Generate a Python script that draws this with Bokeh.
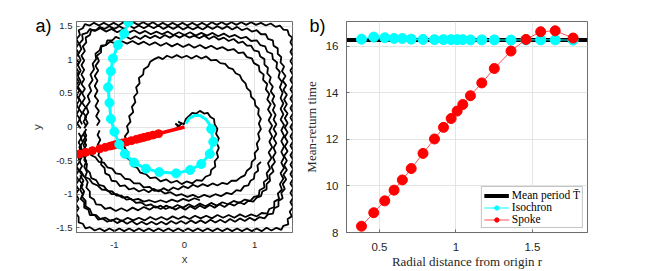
import math
from bokeh.plotting import figure
from bokeh.layouts import row
from bokeh.models import FixedTicker, Title
from bokeh.embed import file_html
from bokeh.resources import INLINE

# ---------------- data: panel b ----------------
r_vals = [0.383, 0.463, 0.535, 0.596, 0.650, 0.708, 0.785, 0.860, 0.919, 0.969,
          1.008, 1.045, 1.095, 1.169, 1.251, 1.360, 1.458, 1.554, 1.649, 1.766]
iso_T = [16.31, 16.40, 16.37, 16.34, 16.34, 16.31, 16.30, 16.29, 16.29, 16.29,
         16.29, 16.29, 16.28, 16.28, 16.28, 16.27, 16.28, 16.28, 16.28, 16.27]
spoke_T = [8.27, 8.85, 9.36, 9.82, 10.26, 10.75, 11.40, 12.02, 12.52, 12.90,
           13.22, 13.50, 13.88, 14.43, 15.05, 15.80, 16.30, 16.63, 16.67, 16.36]
T_mean = 16.27
xb_ticks = [0.5, 1.0, 1.5]
yb_ticks = [8, 10, 12, 14, 16]
xb_range = (0.285, 1.86)
yb_range = (8.0, 17.07)

# ---------------- data: panel a ----------------
xa_ticks = [-1, 0, 1]
ya_ticks = [-1.5, -1, -0.5, 0, 0.5, 1, 1.5]
xa_range = (-1.54, 1.54)
ya_range = (-1.57, 1.57)

spoke_angle_deg = 195.0
spoke_origin = (0.0, 0.0)

iso_head = [(0.02, 0.05), (0.07, 0.13), (0.14, 0.17), (0.22, 0.17), (0.30, 0.12), (0.35, 0.05)]
iso_marks = [(0.38, -0.03), (0.41, -0.22), (0.36, -0.40), (0.24, -0.55), (0.08, -0.64),
             (-0.12, -0.69), (-0.36, -0.67), (-0.55, -0.62), (-0.72, -0.53), (-0.85, -0.40),
             (-0.93, -0.26), (-1.00, -0.07), (-1.05, 0.12), (-1.07, 0.36), (-1.09, 0.59),
             (-1.05, 0.83), (-1.02, 1.02), (-0.95, 1.22), (-0.86, 1.39), (-0.80, 1.56)]

traj_a = [(-0.08, 0.02), (-0.13, 0.05), (-0.05, -0.03), (-0.12, -0.02), (-0.04, 0.05), (-0.09, 0.08), (-0.01, 0.04),
          (0.02, 0.12), (0.07, 0.17), (0.11, 0.21), (0.17, 0.20), (0.22, 0.24), (0.28, 0.20), (0.33, 0.21), (0.37, 0.15),
          (0.42, 0.12), (0.43, 0.04), (0.47, -0.03), (0.45, -0.10), (0.49, -0.17), (0.46, -0.24), (0.49, -0.31),
          (0.46, -0.38), (0.48, -0.45), (0.43, -0.51), (0.44, -0.59), (0.38, -0.64), (0.37, -0.71), (0.30, -0.74),
          (0.25, -0.80), (0.17, -0.79), (0.11, -0.84), (0.03, -0.81), (-0.04, -0.85), (-0.11, -0.80), (-0.19, -0.83),
          (-0.26, -0.78), (-0.34, -0.81), (-0.41, -0.75), (-0.49, -0.76), (-0.55, -0.70), (-0.63, -0.68), (-0.67, -0.61),
          (-0.75, -0.58), (-0.77, -0.50), (-0.83, -0.45), (-0.82, -0.37), (-0.86, -0.29), (-0.82, -0.22), (-0.85, -0.14),
          (-0.80, -0.07), (-0.82, 0.01), (-0.77, 0.08), (-0.79, 0.16), (-0.73, 0.22), (-0.75, 0.30), (-0.70, 0.37),
          (-0.72, 0.45), (-0.67, 0.51), (-0.69, 0.59), (-0.64, 0.65), (-0.65, 0.73), (-0.59, 0.78), (-0.58, 0.86),
          (-0.52, 0.90), (-0.49, 0.97), (-0.43, 1.01), (-0.37, 1.04), (-0.31, 1.01), (-0.25, 1.06), (-0.18, 1.03),
          (-0.11, 1.07), (-0.04, 1.03), (0.03, 1.06), (0.10, 1.02), (0.17, 1.06), (0.24, 1.02), (0.31, 1.05),
          (0.38, 0.99), (0.45, 1.00), (0.51, 0.95), (0.58, 0.94), (0.63, 0.88), (0.69, 0.86), (0.73, 0.80), (0.79, 0.77),
          (0.82, 0.70), (0.87, 0.65), (0.89, 0.58), (0.94, 0.53), (0.95, 0.45), (1.00, 0.40), (1.01, 0.32), (1.06, 0.27),
          (1.05, 0.19), (1.09, 0.12), (1.06, 0.05), (1.09, -0.03), (1.05, -0.10), (1.07, -0.18), (1.03, -0.25),
          (1.05, -0.33), (1.00, -0.39), (1.01, -0.47), (0.96, -0.52), (0.95, -0.60), (0.89, -0.65), (0.86, -0.72),
          (0.80, -0.75), (0.74, -0.80), (0.67, -0.80), (0.61, -0.85), (0.54, -0.83), (0.47, -0.87), (0.40, -0.84),
          (0.33, -0.88), (0.26, -0.85), (0.19, -0.89), (0.12, -0.86), (0.05, -0.91), (-0.02, -0.88), (-0.09, -0.93),
          (-0.16, -0.90), (-0.23, -0.95), (-0.30, -0.91), (-0.37, -0.96), (-0.44, -0.92), (-0.51, -0.97), (-0.58, -0.93),
          (-0.65, -0.96), (-0.72, -0.91), (-0.79, -0.93), (-0.85, -0.87), (-0.92, -0.88), (-0.97, -0.81), (-1.04, -0.80),
          (-1.07, -0.72), (-1.13, -0.69), (-1.14, -0.61), (-1.19, -0.56), (-1.18, -0.48), (-1.23, -0.42), (-1.20, -0.34),
          (-1.24, -0.27), (-1.20, -0.19), (-1.24, -0.12), (-1.21, -0.05)]

traj_b = [(-1.25, 0.02), (-1.21, 0.09), (-1.26, 0.16), (-1.22, 0.24), (-1.27, 0.31), (-1.23, 0.39), (-1.28, 0.46),
          (-1.24, 0.54), (-1.28, 0.61), (-1.24, 0.69), (-1.28, 0.76), (-1.23, 0.84), (-1.27, 0.91), (-1.22, 0.98),
          (-1.25, 1.06), (-1.19, 1.11), (-1.19, 1.19), (-1.12, 1.22), (-1.10, 1.29), (-1.03, 1.29), (-0.98, 1.34),
          (-0.91, 1.31), (-0.84, 1.35), (-0.77, 1.31), (-0.70, 1.35), (-0.63, 1.31), (-0.56, 1.36), (-0.49, 1.32),
          (-0.42, 1.36), (-0.35, 1.32), (-0.28, 1.37), (-0.21, 1.33), (-0.14, 1.37), (-0.07, 1.33), (0.00, 1.37),
          (0.07, 1.33), (0.14, 1.36), (0.21, 1.32), (0.28, 1.36), (0.35, 1.31), (0.42, 1.35), (0.49, 1.30), (0.56, 1.33),
          (0.63, 1.28), (0.70, 1.31), (0.77, 1.25), (0.83, 1.27), (0.89, 1.21), (0.95, 1.21), (0.99, 1.14), (1.06, 1.12),
          (1.08, 1.05), (1.14, 1.01), (1.14, 0.93), (1.19, 0.88), (1.18, 0.80), (1.23, 0.74), (1.21, 0.67), (1.26, 0.60),
          (1.23, 0.53), (1.28, 0.46), (1.25, 0.39), (1.29, 0.32), (1.26, 0.25), (1.30, 0.18), (1.27, 0.11), (1.31, 0.04),
          (1.27, -0.03), (1.31, -0.10), (1.27, -0.17), (1.31, -0.24), (1.27, -0.31), (1.30, -0.38), (1.26, -0.45),
          (1.29, -0.52), (1.24, -0.59), (1.27, -0.66), (1.21, -0.72), (1.22, -0.80), (1.17, -0.85), (1.17, -0.93),
          (1.11, -0.96), (1.09, -1.03), (1.03, -1.05), (0.98, -1.11), (0.91, -1.10), (0.85, -1.15), (0.78, -1.12),
          (0.71, -1.17), (0.64, -1.14), (0.57, -1.19), (0.50, -1.15), (0.43, -1.20), (0.36, -1.16), (0.29, -1.21),
          (0.22, -1.17), (0.15, -1.22), (0.08, -1.18), (0.01, -1.23), (-0.06, -1.19), (-0.13, -1.23), (-0.20, -1.19),
          (-0.27, -1.22), (-0.34, -1.17), (-0.41, -1.20), (-0.48, -1.15), (-0.55, -1.17), (-0.62, -1.12), (-0.69, -1.13),
          (-0.76, -1.07), (-0.83, -1.08), (-0.90, -1.02), (-0.97, -1.02), (-1.03, -0.96), (-1.10, -0.95), (-1.15, -0.88),
          (-1.22, -0.86), (-1.26, -0.79), (-1.33, -0.76), (-1.35, -0.68), (-1.40, -0.63), (-1.39, -0.55), (-1.43, -0.49),
          (-1.40, -0.41), (-1.44, -0.34), (-1.40, -0.27), (-1.44, -0.20), (-1.40, -0.13), (-1.43, -0.06)]

traj_c = [(-1.40, 0.01), (-1.44, 0.08), (-1.40, 0.15), (-1.45, 0.22), (-1.41, 0.29), (-1.46, 0.36), (-1.42, 0.43),
          (-1.46, 0.50), (-1.42, 0.57), (-1.47, 0.64), (-1.43, 0.71), (-1.47, 0.78), (-1.43, 0.85), (-1.47, 0.92),
          (-1.43, 0.99), (-1.47, 1.06), (-1.42, 1.13), (-1.45, 1.20), (-1.40, 1.26), (-1.41, 1.33), (-1.35, 1.37),
          (-1.33, 1.44), (-1.26, 1.44), (-1.21, 1.49), (-1.14, 1.46), (-1.07, 1.50), (-1.00, 1.46), (-0.93, 1.50),
          (-0.86, 1.46), (-0.79, 1.51), (-0.72, 1.47), (-0.65, 1.51), (-0.58, 1.47), (-0.51, 1.51), (-0.44, 1.47),
          (-0.37, 1.51), (-0.30, 1.46), (-0.23, 1.50), (-0.16, 1.46), (-0.09, 1.50), (-0.02, 1.45), (0.05, 1.49),
          (0.12, 1.45), (0.19, 1.49), (0.26, 1.45), (0.33, 1.50), (0.40, 1.46), (0.47, 1.50), (0.54, 1.46), (0.61, 1.50),
          (0.68, 1.45), (0.75, 1.49), (0.82, 1.44), (0.89, 1.47), (0.96, 1.42), (1.03, 1.44), (1.09, 1.38), (1.16, 1.38),
          (1.19, 1.31), (1.26, 1.29), (1.27, 1.21), (1.33, 1.17), (1.33, 1.09), (1.38, 1.04), (1.37, 0.96), (1.42, 0.90),
          (1.39, 0.83), (1.44, 0.76), (1.40, 0.69), (1.45, 0.62), (1.41, 0.55), (1.46, 0.48), (1.42, 0.41), (1.46, 0.34),
          (1.42, 0.27), (1.47, 0.20), (1.43, 0.13), (1.47, 0.06), (1.43, -0.01), (1.47, -0.08), (1.43, -0.15),
          (1.47, -0.22), (1.43, -0.29), (1.47, -0.36), (1.42, -0.43), (1.46, -0.50), (1.42, -0.57), (1.46, -0.64),
          (1.41, -0.71), (1.45, -0.78), (1.40, -0.85), (1.43, -0.92), (1.38, -0.98), (1.40, -1.06), (1.34, -1.10),
          (1.34, -1.18), (1.28, -1.21), (1.26, -1.29), (1.19, -1.30), (1.14, -1.36), (1.07, -1.34), (1.00, -1.39),
          (0.93, -1.35), (0.86, -1.40), (0.79, -1.36), (0.72, -1.41), (0.65, -1.37), (0.58, -1.42), (0.51, -1.38),
          (0.44, -1.42), (0.37, -1.38), (0.30, -1.43), (0.23, -1.39), (0.16, -1.43), (0.09, -1.39), (0.02, -1.44),
          (-0.05, -1.40), (-0.12, -1.44), (-0.19, -1.40), (-0.26, -1.45), (-0.33, -1.41), (-0.40, -1.45), (-0.47, -1.41),
          (-0.54, -1.45), (-0.61, -1.41), (-0.68, -1.45), (-0.75, -1.40), (-0.82, -1.44), (-0.89, -1.39), (-0.96, -1.43),
          (-1.03, -1.38), (-1.10, -1.41), (-1.17, -1.36), (-1.23, -1.38), (-1.28, -1.31), (-1.35, -1.31), (-1.37, -1.23),
          (-1.43, -1.20), (-1.43, -1.12), (-1.48, -1.07), (-1.45, -1.00), (-1.49, -0.93), (-1.45, -0.86), (-1.50, -0.79),
          (-1.46, -0.72), (-1.50, -0.65), (-1.46, -0.58), (-1.50, -0.51), (-1.46, -0.44), (-1.51, -0.37), (-1.47, -0.30),
          (-1.51, -0.23), (-1.47, -0.16), (-1.51, -0.09)]

traj_d = [(-1.48, -0.02), (-1.53, 0.05), (-1.49, 0.12), (-1.54, 0.19), (-1.50, 0.26), (-1.54, 0.33), (-1.50, 0.40),
          (-1.54, 0.47), (-1.50, 0.54), (-1.55, 0.61), (-1.51, 0.68), (-1.55, 0.75), (-1.51, 0.82), (-1.55, 0.89),
          (-1.51, 0.96), (-1.55, 1.03), (-1.51, 1.10), (-1.55, 1.17), (-1.51, 1.24), (-1.54, 1.31), (-1.49, 1.37),
          (-1.51, 1.44), (-1.45, 1.47), (-1.42, 1.53), (-1.35, 1.51), (-1.29, 1.55), (-1.22, 1.51), (-1.15, 1.55),
          (-1.08, 1.51), (-1.01, 1.55), (-0.94, 1.51), (-0.87, 1.56), (-0.80, 1.52), (-0.73, 1.56), (-0.66, 1.52),
          (-0.59, 1.56), (-0.52, 1.52), (-0.45, 1.56), (-0.38, 1.51), (-0.31, 1.55), (-0.24, 1.51), (-0.17, 1.55),
          (-0.10, 1.51), (-0.03, 1.55), (0.04, 1.51), (0.11, 1.55), (0.18, 1.51), (0.25, 1.55), (0.32, 1.51),
          (0.39, 1.56), (0.46, 1.52), (0.53, 1.56), (0.60, 1.52), (0.67, 1.56), (0.74, 1.52), (0.81, 1.56), (0.88, 1.52),
          (0.95, 1.56), (1.02, 1.52), (1.09, 1.55), (1.16, 1.51), (1.23, 1.54), (1.30, 1.49), (1.36, 1.51), (1.41, 1.45),
          (1.47, 1.44), (1.49, 1.37), (1.54, 1.33), (1.51, 1.26), (1.55, 1.19), (1.51, 1.12), (1.55, 1.05), (1.51, 0.98),
          (1.55, 0.91), (1.51, 0.84), (1.55, 0.77), (1.51, 0.70), (1.55, 0.63), (1.51, 0.56), (1.55, 0.49), (1.51, 0.42),
          (1.55, 0.35), (1.51, 0.28), (1.55, 0.21), (1.51, 0.14), (1.55, 0.07), (1.51, 0.00), (1.55, -0.07),
          (1.51, -0.14), (1.55, -0.21), (1.51, -0.28), (1.55, -0.35), (1.51, -0.42), (1.55, -0.49), (1.51, -0.56),
          (1.55, -0.63), (1.51, -0.70), (1.55, -0.77), (1.51, -0.84), (1.55, -0.91), (1.51, -0.98), (1.55, -1.05),
          (1.51, -1.12), (1.55, -1.19), (1.50, -1.26), (1.53, -1.33), (1.47, -1.37), (1.48, -1.45), (1.41, -1.47),
          (1.38, -1.53), (1.31, -1.50), (1.24, -1.54), (1.17, -1.50), (1.10, -1.55), (1.03, -1.51), (0.96, -1.55),
          (0.89, -1.51), (0.82, -1.55), (0.75, -1.51), (0.68, -1.55), (0.61, -1.51), (0.54, -1.55), (0.47, -1.51),
          (0.40, -1.55), (0.33, -1.51), (0.26, -1.55), (0.19, -1.51), (0.12, -1.55), (0.05, -1.51), (-0.02, -1.55),
          (-0.09, -1.51), (-0.16, -1.55), (-0.23, -1.51), (-0.30, -1.55), (-0.37, -1.51), (-0.44, -1.55), (-0.51, -1.51),
          (-0.58, -1.55), (-0.65, -1.51), (-0.72, -1.55), (-0.79, -1.51), (-0.86, -1.55), (-0.93, -1.51), (-1.00, -1.55),
          (-1.07, -1.51), (-1.14, -1.55), (-1.21, -1.51), (-1.28, -1.54), (-1.35, -1.49), (-1.41, -1.51), (-1.45, -1.44),
          (-1.51, -1.42), (-1.51, -1.34), (-1.55, -1.28), (-1.51, -1.21), (-1.55, -1.14), (-1.51, -1.07), (-1.55, -1.00),
          (-1.51, -0.93), (-1.55, -0.86), (-1.51, -0.79), (-1.55, -0.72), (-1.51, -0.65), (-1.54, -0.58), (-1.49, -0.51),
          (-1.52, -0.44), (-1.47, -0.37), (-1.50, -0.30), (-1.45, -0.23), (-1.48, -0.16), (-1.43, -0.09)]

traj_e = [(-1.43, -0.02), (-1.38, 0.06), (-1.42, 0.14), (-1.37, 0.22), (-1.40, 0.30), (-1.35, 0.38), (-1.38, 0.46),
          (-1.33, 0.54), (-1.36, 0.62), (-1.31, 0.70), (-1.34, 0.78), (-1.29, 0.86), (-1.31, 0.94), (-1.26, 1.01),
          (-1.27, 1.09), (-1.21, 1.14), (-1.19, 1.21), (-1.12, 1.22), (-1.06, 1.27), (-0.98, 1.24), (-0.90, 1.28),
          (-0.82, 1.24), (-0.74, 1.28), (-0.66, 1.23), (-0.58, 1.27), (-0.50, 1.22), (-0.42, 1.26), (-0.34, 1.21),
          (-0.26, 1.25), (-0.18, 1.20), (-0.10, 1.24), (-0.02, 1.19), (0.06, 1.23), (0.14, 1.18), (0.22, 1.22),
          (0.30, 1.17), (0.38, 1.21), (0.46, 1.16), (0.54, 1.19), (0.62, 1.14), (0.70, 1.16), (0.77, 1.10), (0.84, 1.11),
          (0.89, 1.04), (0.96, 1.02), (0.99, 0.95), (1.06, 0.91), (1.07, 0.83), (1.13, 0.78), (1.12, 0.70), (1.18, 0.64),
          (1.16, 0.56), (1.21, 0.49), (1.18, 0.41), (1.23, 0.34), (1.19, 0.26), (1.24, 0.18), (1.20, 0.10), (1.25, 0.02),
          (1.21, -0.06), (1.25, -0.14), (1.21, -0.22), (1.25, -0.30), (1.20, -0.38), (1.24, -0.46), (1.19, -0.54),
          (1.22, -0.62), (1.17, -0.69), (1.19, -0.77), (1.13, -0.82), (1.14, -0.90), (1.07, -0.94), (1.06, -1.02),
          (0.99, -1.04), (0.94, -1.10), (0.86, -1.08), (0.78, -1.13), (0.70, -1.10), (0.62, -1.15), (0.54, -1.12),
          (0.46, -1.17), (0.38, -1.13), (0.30, -1.18), (0.22, -1.14), (0.14, -1.19), (0.06, -1.15), (-0.02, -1.20),
          (-0.10, -1.16), (-0.18, -1.21), (-0.26, -1.17), (-0.34, -1.22), (-0.42, -1.18), (-0.50, -1.23), (-0.58, -1.19),
          (-0.66, -1.24), (-0.74, -1.20), (-0.82, -1.25), (-0.90, -1.21), (-0.98, -1.25), (-1.06, -1.20), (-1.13, -1.22),
          (-1.19, -1.16), (-1.26, -1.15), (-1.29, -1.08), (-1.35, -1.04), (-1.35, -0.96), (-1.40, -0.90), (-1.38, -0.82),
          (-1.42, -0.75), (-1.39, -0.67), (-1.43, -0.59), (-1.40, -0.51), (-1.44, -0.43), (-1.40, -0.35), (-1.44, -0.27),
          (-1.40, -0.19), (-1.44, -0.11), (-1.40, -0.03)]

traj_f = [(-1.46, 0.04), (-1.50, 0.12), (-1.46, 0.20), (-1.51, 0.28), (-1.47, 0.36), (-1.51, 0.44), (-1.47, 0.52),
          (-1.52, 0.60), (-1.48, 0.68), (-1.52, 0.76), (-1.48, 0.84), (-1.52, 0.92), (-1.48, 1.00), (-1.52, 1.08),
          (-1.47, 1.16), (-1.50, 1.24), (-1.45, 1.30), (-1.46, 1.38), (-1.39, 1.40), (-1.35, 1.46), (-1.28, 1.43),
          (-1.20, 1.47), (-1.12, 1.42), (-1.04, 1.46), (-0.96, 1.41), (-0.88, 1.45), (-0.80, 1.40), (-0.72, 1.44),
          (-0.64, 1.39), (-0.56, 1.43), (-0.48, 1.38), (-0.40, 1.42), (-0.32, 1.38), (-0.24, 1.42), (-0.16, 1.37),
          (-0.08, 1.41), (0.00, 1.37), (0.08, 1.41), (0.16, 1.36), (0.24, 1.40), (0.32, 1.36), (0.40, 1.40), (0.48, 1.35),
          (0.56, 1.39), (0.64, 1.34), (0.72, 1.37), (0.80, 1.32), (0.88, 1.34), (0.95, 1.28), (1.03, 1.29), (1.08, 1.22),
          (1.15, 1.20), (1.18, 1.12), (1.25, 1.09), (1.26, 1.01), (1.32, 0.96), (1.31, 0.88), (1.36, 0.82), (1.34, 0.74),
          (1.39, 0.67), (1.36, 0.59), (1.40, 0.51), (1.37, 0.43), (1.41, 0.35), (1.37, 0.27), (1.41, 0.19), (1.37, 0.11),
          (1.42, 0.03), (1.38, -0.05), (1.42, -0.13), (1.38, -0.21), (1.42, -0.29), (1.38, -0.37), (1.42, -0.45),
          (1.38, -0.53), (1.42, -0.61), (1.37, -0.69), (1.41, -0.77), (1.36, -0.85), (1.39, -0.93), (1.33, -0.99),
          (1.35, -1.07), (1.28, -1.11), (1.28, -1.19), (1.21, -1.22), (1.18, -1.29), (1.10, -1.28), (1.03, -1.33),
          (0.95, -1.30), (0.87, -1.34), (0.79, -1.30), (0.71, -1.35), (0.63, -1.31), (0.55, -1.35), (0.47, -1.31),
          (0.39, -1.36), (0.31, -1.32), (0.23, -1.36), (0.15, -1.32), (0.07, -1.37), (-0.01, -1.33), (-0.09, -1.37),
          (-0.17, -1.33), (-0.25, -1.38), (-0.33, -1.34), (-0.41, -1.38), (-0.49, -1.34), (-0.57, -1.39), (-0.65, -1.35),
          (-0.73, -1.39), (-0.81, -1.35), (-0.89, -1.40), (-0.97, -1.36), (-1.05, -1.40), (-1.13, -1.35), (-1.20, -1.37),
          (-1.26, -1.31), (-1.32, -1.30), (-1.35, -1.22), (-1.41, -1.18), (-1.41, -1.10), (-1.46, -1.04), (-1.43, -0.96),
          (-1.48, -0.88), (-1.44, -0.80), (-1.49, -0.72)]

traj_g = [(-1.49, -0.30), (-1.44, -0.36), (-1.38, -0.35), (-1.33, -0.42), (-1.27, -0.45), (-1.22, -0.52),
          (-1.15, -0.53), (-1.10, -0.60), (-1.03, -0.62), (-0.98, -0.69), (-0.91, -0.70), (-0.85, -0.77),
          (-0.78, -0.78), (-0.72, -0.84), (-0.64, -0.84), (-0.58, -0.90), (-0.50, -0.89), (-0.43, -0.95),
          (-0.35, -0.94), (-0.28, -0.99), (-0.20, -0.97), (-0.12, -1.02), (-0.04, -1.00), (0.04, -1.04),
          (0.12, -1.01), (0.20, -1.05), (0.28, -1.01), (0.36, -1.04), (0.44, -1.00), (0.52, -1.03), (0.60, -0.98),
          (0.67, -1.00), (0.74, -0.94), (0.80, -0.95), (0.85, -0.88), (0.91, -0.87), (0.94, -0.80), (0.99, -0.77),
          (1.00, -0.69), (1.05, -0.65), (1.04, -0.57), (1.09, -0.52)]

traj_h = [(-1.53, -0.62), (-1.47, -0.67), (-1.43, -0.74), (-1.36, -0.77), (-1.31, -0.84), (-1.24, -0.87),
          (-1.18, -0.93), (-1.10, -0.94), (-1.04, -1.00), (-0.96, -1.00), (-0.89, -1.05), (-0.81, -1.04),
          (-0.74, -1.09), (-0.66, -1.07), (-0.58, -1.11), (-0.50, -1.09), (-0.42, -1.12), (-0.34, -1.09),
          (-0.26, -1.12), (-0.18, -1.08), (-0.10, -1.11), (-0.02, -1.07), (0.06, -1.10), (0.14, -1.06), (0.22, -1.09)]

# ---------------- styling helpers ----------------
SANS = "Liberation Sans"
SERIF = "Liberation Serif"
BOX = "#6e6e6e"
GRID = "#e4e4e4"


def style_axes(p, tick_size, label_font, label_size, label_color):
    p.outline_line_color = BOX
    p.outline_line_width = 1
    p.background_fill_color = "white"
    p.border_fill_color = "white"
    p.grid.grid_line_color = GRID
    p.grid.grid_line_width = 1
    for ax in (p.xaxis, p.yaxis):
        ax.axis_line_color = BOX
        ax.major_tick_line_color = BOX
        ax.major_tick_in = 3
        ax.major_tick_out = 0
        ax.minor_tick_line_color = None
        ax.major_label_text_font = SANS
        ax.major_label_text_font_size = tick_size
        ax.major_label_text_color = "#262626"
        ax.axis_label_text_font = label_font
        ax.axis_label_text_font_size = label_size
        ax.axis_label_text_font_style = "normal"
        ax.axis_label_text_color = label_color


def fmt(v):
    return "%g" % v


def panel_tag(text, offset):
    return Title(text=text, align="left", offset=offset, standoff=-28,
                 vertical_align="bottom", text_font=SANS, text_font_size="18px",
                 text_font_style="normal", text_color="black")


# ---------------- panel a ----------------
p1 = figure(width=300, height=271, x_range=xa_range, y_range=ya_range,
            output_backend="svg", toolbar_location=None,
            min_border_left=76, min_border_right=8, min_border_top=20, min_border_bottom=35)
style_axes(p1, "9.5px", SANS, "11.5px", "#404040")
p1.xaxis.ticker = FixedTicker(ticks=xa_ticks)
p1.yaxis.ticker = FixedTicker(ticks=ya_ticks)
p1.xaxis.major_label_overrides = {t: fmt(t) for t in xa_ticks}
p1.yaxis.major_label_overrides = {t: fmt(t) for t in ya_ticks}
p1.xaxis.axis_label = "x"
p1.yaxis.axis_label = "y"
p1.xaxis.major_label_standoff = 9
p1.yaxis.major_label_standoff = 4
p1.xaxis.axis_label_standoff = 2
p1.yaxis.axis_label_standoff = 10

for seg in (traj_a, traj_b, traj_c, traj_d, traj_e, traj_f, traj_g, traj_h):
    p1.line([q[0] for q in seg], [q[1] for q in seg], line_color="black", line_width=1.8)

ang = math.radians(spoke_angle_deg)
spoke_x = [r * math.cos(ang) for r in r_vals]
spoke_y = [r * math.sin(ang) for r in r_vals]
p1.line([spoke_origin[0], spoke_x[-1]], [spoke_origin[1], spoke_y[-1]],
        line_color="red", line_width=3.5)
p1.scatter(spoke_x, spoke_y, size=8, fill_color="red", line_color="red")

iso_all = iso_head + iso_marks
p1.line([q[0] for q in iso_all], [q[1] for q in iso_all], line_color="cyan", line_width=3)
p1.scatter([q[0] for q in iso_marks], [q[1] for q in iso_marks], size=9,
           fill_color="cyan", line_color="cyan")

p1.add_layout(panel_tag("a)", -41), "above")

# ---------------- panel b ----------------
p2 = figure(width=364, height=271, x_range=xb_range, y_range=yb_range,
            output_backend="svg", toolbar_location=None,
            min_border_left=45, min_border_right=77, min_border_top=21, min_border_bottom=38)
style_axes(p2, "11.5px", SERIF, "13px", "#262626")
p2.xaxis.ticker = FixedTicker(ticks=xb_ticks)
p2.yaxis.ticker = FixedTicker(ticks=yb_ticks)
p2.xaxis.major_label_overrides = {t: fmt(t) for t in xb_ticks}
p2.yaxis.major_label_overrides = {t: fmt(t) for t in yb_ticks}
p2.xaxis.axis_label = "Radial distance from origin r"
p2.yaxis.axis_label = "Mean-return time"
p2.xaxis.major_label_standoff = 10
p2.yaxis.major_label_standoff = 8
p2.xaxis.axis_label_standoff = 0
p2.yaxis.axis_label_standoff = 4

p2.line([xb_range[0], xb_range[1]], [T_mean, T_mean], line_color="black", line_width=4,
        legend_label="Mean period T\u0304")
p2.line(r_vals, iso_T, line_color="cyan", line_width=1, legend_label="Isochron")
p2.scatter(r_vals, iso_T, size=10, fill_color="cyan", line_color="cyan", legend_label="Isochron")
p2.line(r_vals, spoke_T, line_color="#ff5050", line_width=1, legend_label="Spoke")
p2.scatter(r_vals, spoke_T, size=10, fill_color="red", line_color="red", legend_label="Spoke")

lg = p2.legend[0]
lg.location = "bottom_right"
lg.margin = 4
lg.padding = 2
lg.spacing = 0
lg.glyph_width = 25
lg.glyph_height = 11
lg.label_height = 11
lg.label_standoff = 3
lg.label_text_font = SERIF
lg.label_text_font_size = "11.5px"
lg.label_text_color = "black"
lg.border_line_color = "#8a8a8a"
lg.border_line_width = 1
lg.background_fill_alpha = 1

p2.add_layout(panel_tag("b)", -37), "above")

layout = row(p1, p2)
open("out.html", "w").write(file_html(layout, INLINE))
